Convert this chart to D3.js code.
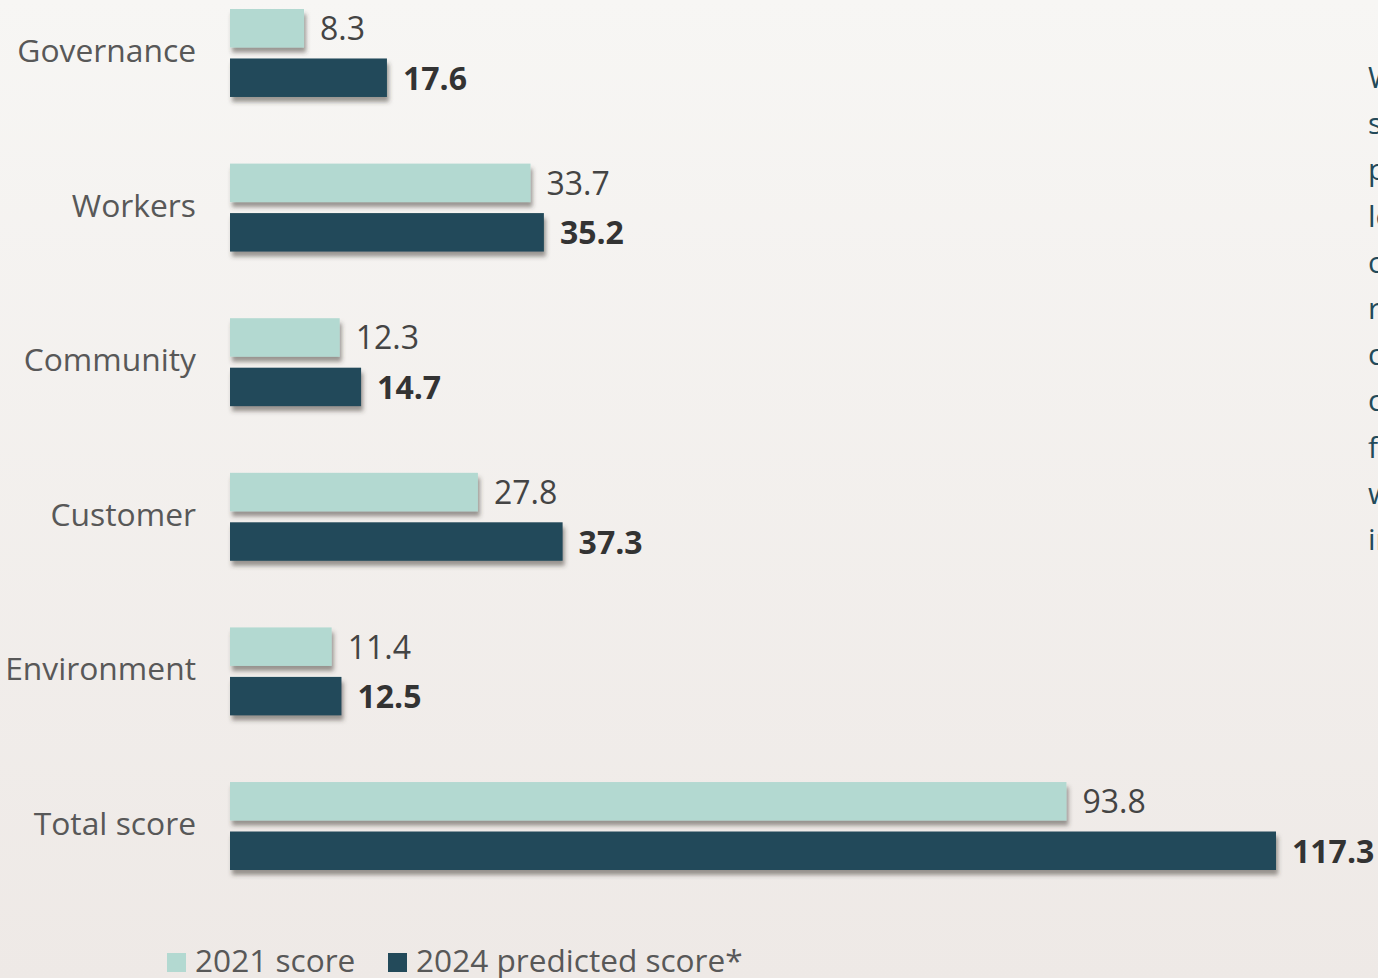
<!DOCTYPE html>
<html>
<head>
<meta charset="utf-8">
<script src="https://cdn.jsdelivr.net/npm/d3@7"></script>
<style>
  html, body { margin: 0; padding: 0; overflow: hidden; }
  body { width: 1378px; height: 978px; }
  svg { display: block; font-family: 'Open Sans', sans-serif; }
</style>
</head>
<body>
<div id="chart"></div>
<script>
// categories and scores
const categories = ['Governance', 'Workers', 'Community', 'Customer', 'Environment', 'Total score']
const series = ['2021 score', '2024 predicted score*']
const score2021 = [8.3, 33.7, 12.3, 27.8, 11.4, 93.8]
const score2024 = [17.6, 35.2, 14.7, 37.3, 12.5, 117.3]
const colors = ['#b3d9d1', '#234a5a']
// the paragraph on the right is cut off by the frame
const sideText = ['While', 'scores', 'predicted', 'levels', 'over', 'reflect', 'continued', 'commitment', 'for', 'wider', 'impact']

const width = 1378
const height = 978

const svg = d3.select('#chart')
	.append('svg')
	.attr('width', width)
	.attr('height', height)

const defs = svg.append('defs')

const grad = defs.append('linearGradient')
	.attr('id', 'bg')
	.attr('x1', 0).attr('y1', 0)
	.attr('x2', 0).attr('y2', 1)
grad.append('stop').attr('offset', '0%').attr('stop-color', '#f7f6f4')
grad.append('stop').attr('offset', '100%').attr('stop-color', '#eee9e6')

const shadow = defs.append('filter')
	.attr('id', 'shadow')
	.attr('x', '-5%').attr('y', '-20%')
	.attr('width', '120%').attr('height', '160%')
shadow.append('feDropShadow')
	.attr('dx', 2).attr('dy', 5)
	.attr('stdDeviation', 2)
	.attr('flood-color', '#3a3533')
	.attr('flood-opacity', 0.5)

svg.append('rect')
	.attr('width', width)
	.attr('height', height)
	.attr('fill', 'url(#bg)')

// scales
const x = d3.scaleLinear()
	.domain([0, 117.3])
	.range([230, 1276])

const y0 = d3.scaleBand()
	.domain(categories)
	.range([9, 870])
	.paddingInner(0.431)

const y1 = d3.scaleBand()
	.domain(series)
	.range([0, y0.bandwidth()])
	.paddingInner(0.222)

const rows = categories.map((c, i) => ({
	name: c,
	values: [
		{ key: series[0], value: score2021[i] },
		{ key: series[1], value: score2024[i] }
	]
}))

const groups = svg.selectAll('.group')
	.data(rows)
	.join('g')
	.attr('class', 'group')
	.attr('transform', d => `translate(0,${y0(d.name)})`)

// category labels
groups.append('text')
	.attr('x', 196)
	.attr('y', y0.bandwidth() / 2 + 9)
	.attr('text-anchor', 'end')
	.style('font-size', '31.8px')
	.attr('fill', '#585858')
	.text(d => d.name)

// bars, the light one first so the dark one covers its shadow
groups.selectAll('rect')
	.data(d => d.values)
	.join('rect')
	.attr('x', x(0))
	.attr('y', d => y1(d.key))
	.attr('width', d => x(d.value) - x(0))
	.attr('height', y1.bandwidth())
	.attr('fill', (d, i) => colors[i])
	.attr('filter', 'url(#shadow)')

// value labels
groups.selectAll('.val')
	.data(d => d.values)
	.join('text')
	.attr('class', 'val')
	.attr('x', d => x(d.value) + 16)
	.attr('y', d => y1(d.key) + y1.bandwidth() / 2 + 12)
	.style('font-size', '32px')
	.style('font-weight', (d, i) => i === 1 ? 700 : 400)
	.attr('fill', (d, i) => i === 1 ? '#333' : '#444')
	.text(d => d.value.toFixed(1))

// legend
const legend = svg.append('g')
const legendX = [167, 388]
series.forEach((s, i) => {
	legend.append('rect')
		.attr('x', legendX[i])
		.attr('y', 953)
		.attr('width', 19)
		.attr('height', 19)
		.attr('fill', colors[i])
	legend.append('text')
		.attr('x', legendX[i] + 28)
		.attr('y', 972)
		.style('font-size', '31.6px')
		.attr('fill', '#585858')
		.text(s)
})

// side paragraph, clipped by the right edge
svg.append('g')
	.selectAll('text')
	.data(sideText)
	.join('text')
	.attr('x', 1368)
	.attr('y', (d, i) => 88 + i * 46.2)
	.style('font-size', '30px')
	.attr('fill', '#234a5a')
	.text(d => d)
</script>
</body>
</html>
